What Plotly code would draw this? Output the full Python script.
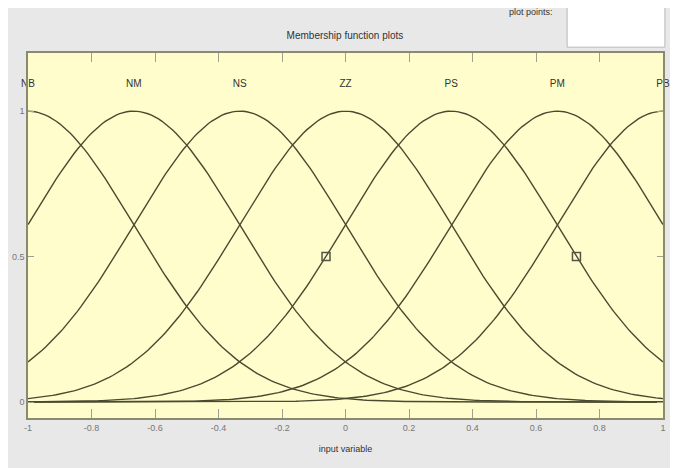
import numpy as np
import plotly.graph_objects as go

# membership functions (gaussmf): name, centre, sigma
mf_names = ["NB", "NM", "NS", "ZZ", "PS", "PM", "PB"]
mf_centers = [-1.0, -0.667, -0.333, 0.0, 0.333, 0.667, 1.0]
mf_sigmas = [0.335, 0.335, 0.335, 0.335, 0.335, 0.335, 0.335]

x_ticks = [-1, -0.8, -0.6, -0.4, -0.2, 0, 0.2, 0.4, 0.6, 0.8, 1]
x_labels = ["-1", "-0.8", "-0.6", "-0.4", "-0.2", "0", "0.2", "0.4", "0.6", "0.8", "1"]
y_ticks = [0, 0.5, 1]
y_labels = ["0", "0.5", "1"]

n_points = 181
selected_mf = "PS"

line_col = "#4a4a30"
xs = np.linspace(-1, 1, n_points)

fig = go.Figure()
for name, c, s in zip(mf_names, mf_centers, mf_sigmas):
    ys = np.exp(-((xs - c) ** 2) / (2 * s ** 2))
    fig.add_trace(go.Scatter(x=xs, y=ys, mode="lines", name=name,
                             line=dict(color=line_col, width=1.4),
                             hoverinfo="skip"))

# MF labels above the peaks
fig.add_trace(go.Scatter(
    x=mf_centers, y=[1.09] * len(mf_centers), mode="text", text=mf_names,
    textfont=dict(family="Liberation Sans Narrow, Liberation Sans", size=10, color="#333333"),
    cliponaxis=False, hoverinfo="skip"))

# half-height handles on the selected MF
i = mf_names.index(selected_mf)
half = mf_sigmas[i] * np.sqrt(2 * np.log(2))
fig.add_trace(go.Scatter(
    x=[mf_centers[i] - half, mf_centers[i] + half], y=[0.5, 0.5], mode="markers",
    marker=dict(symbol="square-open", size=8, color="#555544", line=dict(width=1.5)),
    hoverinfo="skip"))

fig.update_layout(
    width=678, height=468,
    margin=dict(l=20, r=23, t=45, b=58),
    paper_bgcolor="#e8e8e8",
    plot_bgcolor="#fffdcc",
    showlegend=False,
    font=dict(family="Liberation Sans Narrow, Liberation Sans", size=9, color="#777777"),
    title=dict(text="Membership function plots", x=0.497, xanchor="center",
               y=0.942, yanchor="middle", automargin=False,
               font=dict(size=10, color="#333333")),
)
fig.update_xaxes(range=[-1, 1], tickvals=x_ticks, ticktext=x_labels,
                 ticks="inside", ticklen=9, tickcolor="#a0a090",
                 showline=True, linecolor="#8a8a70", linewidth=1.5, mirror="ticks",
                 showgrid=False, zeroline=False, automargin=False,
                 title=dict(text="input variable", standoff=14,
                            font=dict(size=9, color="#333333")))
fig.update_yaxes(range=[-0.055, 1.2], tickvals=y_ticks, ticktext=y_labels,
                 ticks="inside", ticklen=6, tickcolor="#a0a090",
                 showline=True, linecolor="#8a8a70", linewidth=1.5, mirror="ticks",
                 showgrid=False, zeroline=False, automargin=False)

# the "plot points" edit box
fig.add_shape(type="rect", xref="paper", yref="paper", x0=0.849, x1=1.003,
              y0=1.016, y1=1.2, fillcolor="white",
              line=dict(color="#b8b8b8", width=1))
fig.add_annotation(text="plot points:", xref="paper", yref="paper", x=0.83, y=1.112,
                   xanchor="right", yanchor="middle", showarrow=False,
                   font=dict(size=9, color="#333333"))

fig.write_html("out.html")
